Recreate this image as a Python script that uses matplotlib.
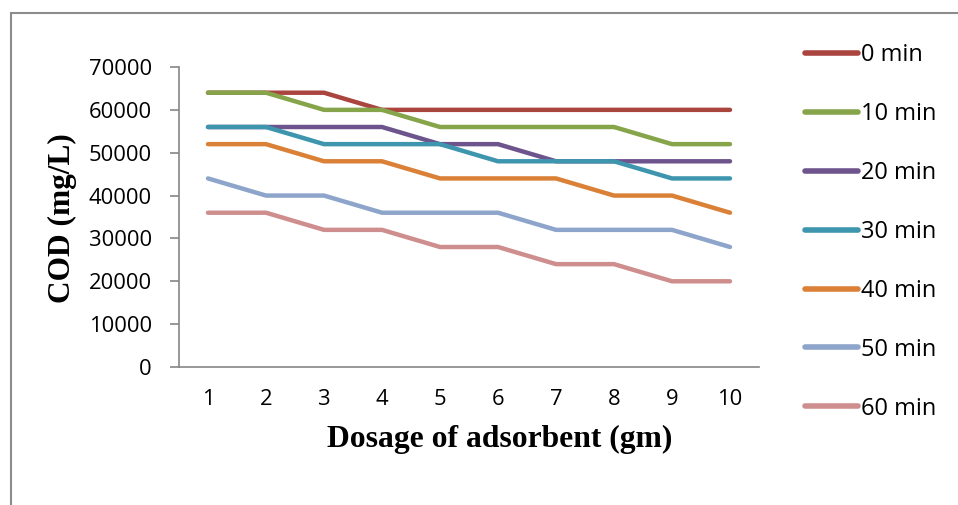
import matplotlib
matplotlib.use("Agg")
import matplotlib.pyplot as plt
from matplotlib.patches import Rectangle

dosage = [1, 2, 3, 4, 5, 6, 7, 8, 9, 10]
series_names = ["0 min", "10 min", "20 min", "30 min", "40 min", "50 min", "60 min"]
cod_0 = [64000, 64000, 64000, 60000, 60000, 60000, 60000, 60000, 60000, 60000]
cod_10 = [64000, 64000, 60000, 60000, 56000, 56000, 56000, 56000, 52000, 52000]
cod_20 = [56000, 56000, 56000, 56000, 52000, 52000, 48000, 48000, 48000, 48000]
cod_30 = [56000, 56000, 52000, 52000, 52000, 48000, 48000, 48000, 44000, 44000]
cod_40 = [52000, 52000, 48000, 48000, 44000, 44000, 44000, 40000, 40000, 36000]
cod_50 = [44000, 40000, 40000, 36000, 36000, 36000, 32000, 32000, 32000, 28000]
cod_60 = [36000, 36000, 32000, 32000, 28000, 28000, 24000, 24000, 20000, 20000]
yticks = [0, 10000, 20000, 30000, 40000, 50000, 60000, 70000]

colors = ["#A9443F", "#86A44A", "#6E548D", "#3D96AE", "#DA8137", "#8EA5CB", "#CE8E8D"]
all_series = [cod_0, cod_10, cod_20, cod_30, cod_40, cod_50, cod_60]

W, H = 958, 505
fig = plt.figure(figsize=(W / 100, H / 100), dpi=100)
fig.patch.set_facecolor("white")

ax = fig.add_axes([179 / W, 1 - 367 / H, 580 / W, 300 / H])
for name, vals, c in zip(series_names, all_series, colors):
    ax.plot(dosage, vals, color=c, lw=3.2, solid_capstyle="round",
            solid_joinstyle="round", label=name)

ax.set_xlim(0.5, 10.5)
ax.set_ylim(0, 70000)
ax.set_yticks(yticks)
ax.set_yticklabels([str(v) for v in yticks])
ax.set_xticks(dosage)
ax.set_xticklabels([str(d) for d in dosage])

for lab in ax.get_yticklabels() + ax.get_xticklabels():
    lab.set_fontfamily("Open Sans")
    lab.set_fontsize(15.8)
    lab.set_color("#000000")

ax.tick_params(axis="y", length=6.5, width=1.2, color="#868686", pad=13, direction="out")
ax.tick_params(axis="x", length=0, pad=16)
for s in ["top", "right"]:
    ax.spines[s].set_visible(False)
for s in ["left", "bottom"]:
    ax.spines[s].set_color("#868686")
    ax.spines[s].set_linewidth(1.2)

fig.text(500 / W, 1 - 439 / H, "Dosage of adsorbent (gm)", ha="center", va="center",
         family="Liberation Serif", weight="bold", size=22.8)
fig.text(62 / W, 1 - 218 / H, "COD (mg/L)", ha="center", va="center", rotation=90,
         family="Liberation Serif", weight="bold", size=22.6)

leg = ax.legend(loc="upper left", bbox_to_anchor=(805 / W, 1 - 43 / H),
                bbox_transform=fig.transFigure, frameon=False,
                prop=dict(family="Open Sans", size=17), handlelength=2.25,
                handletextpad=0.12, labelspacing=1.48, borderaxespad=0,
                borderpad=0)
for line in leg.get_lines():
    line.set_linewidth(4)
    line.set_solid_capstyle("round")

border = Rectangle((11 / W, -0.2), 2.0, 1.2 - 13 / H, transform=fig.transFigure,
                   fill=False, edgecolor="#8C8C8C", lw=1.5, clip_on=False)
fig.add_artist(border)

fig.savefig("out.png", dpi=100, facecolor="white")
